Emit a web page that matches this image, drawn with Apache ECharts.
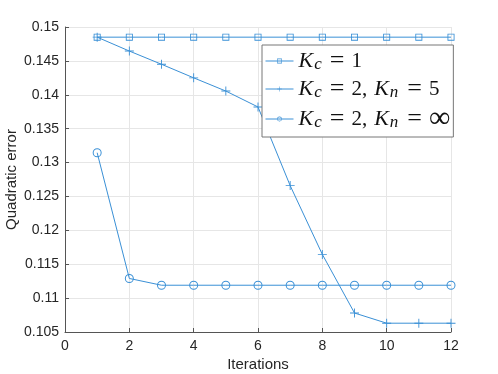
<!DOCTYPE html>
<html>
<head>
<meta charset="utf-8">
<script src="https://cdn.jsdelivr.net/npm/echarts@6/dist/echarts.min.js"></script>
<style>html,body{margin:0;padding:0;background:#fff}#c{width:498px;height:374px}</style>
</head>
<body>
<div id="c"></div>
<script>
var iterations = [1,2,3,4,5,6,7,8,9,10,11,12];
var kc1 = [0.1485,0.1485,0.1485,0.1485,0.1485,0.1485,0.1485,0.1485,0.1485,0.1485,0.1485,0.1485];
var kc2kn5 = [0.1485,0.14645,0.1445,0.1425,0.14055,0.1382,0.1266,0.11645,0.1078,0.1063,0.1063,0.1063];
var kc2knInf = [0.13145,0.1129,0.1119,0.1119,0.1119,0.1119,0.1119,0.1119,0.1119,0.1119,0.1119,0.1119];
var xTicks = [0,2,4,6,8,10,12];
var yTicks = [0.105,0.11,0.115,0.12,0.125,0.13,0.135,0.14,0.145,0.15];
var seriesNames = ['Kc1','Kc2Kn5','Kc2KnInf'];
var legendLabels = {
  'Kc1': '{k|K}{sc|c}{e|=}{n|1}',
  'Kc2Kn5': '{k|K}{sc|c}{e|=}{n|2,}{k2|K}{sn|n}{e|=}{n|5}',
  'Kc2KnInf': '{k|K}{sc|c}{e|=}{n|2,}{k2|K}{sn|n}{e|=}{inf|∞}'
};
function pairs(ys){ return iterations.map(function(x,i){ return [x, ys[i]]; }); }
var col = '#3a90d6';
var plusPath = 'path://M4.5,0h1v10h-1zM0,4.5h10v1h-10z';
var squarePath = 'path://M0,0L10,0L10,10L0,10ZM1.2,1.2L1.2,8.8L8.8,8.8L8.8,1.2Z';
var circlePath = 'path://M5,0A5,5 0 1,1 5,10A5,5 0 1,1 5,0ZM5,1.1A3.9,3.9 0 1,0 5,8.9A3.9,3.9 0 1,0 5,1.1Z';
var chart = echarts.init(document.getElementById('c'), null, {renderer:'canvas'});
var axisFont = {fontFamily:'Liberation Sans, Arial, sans-serif', fontSize:14, color:'#262626'};
var serif = 'Liberation Serif, DejaVu Serif, serif';
chart.setOption({
  animation:false,
  backgroundColor:'#fff',
  grid:{left:65,right:47,top:27,bottom:42,containLabel:false,outerBoundsMode:'none'},
  xAxis:{
    type:'value', min:0, max:12, interval:2,
    name:'Iterations', nameLocation:'middle', nameGap:25, nameMoveOverlap:false,
    nameTextStyle:{fontFamily:'Liberation Sans, Arial, sans-serif', fontSize:15, color:'#262626'},
    axisLine:{lineStyle:{color:'#555',width:1}},
    axisTick:{inside:true,length:4,lineStyle:{color:'#555'}},
    axisLabel:Object.assign({margin:7, formatter:function(v){return xTicks.indexOf(v)>=0? String(v):'';}}, axisFont),
    splitLine:{show:true,lineStyle:{color:'#e6e6e6',width:1}}
  },
  yAxis:{
    type:'value', min:0.105, max:0.15, interval:0.005,
    name:'Quadratic error', nameLocation:'middle', nameGap:46, nameMoveOverlap:false,
    nameTextStyle:{fontFamily:'Liberation Sans, Arial, sans-serif', fontSize:15, color:'#262626'},
    axisLine:{show:true,lineStyle:{color:'#555',width:1}},
    axisTick:{show:true,inside:true,length:4,lineStyle:{color:'#555'}},
    axisLabel:Object.assign({margin:6, formatter:function(v){
      var best=yTicks[0];yTicks.forEach(function(t){if(Math.abs(t-v)<Math.abs(best-v))best=t;});
      return String(best);}}, axisFont),
    splitLine:{show:true,lineStyle:{color:'#e6e6e6',width:1}}
  },
  legend:{
    orient:'vertical', left:262, top:45,
    backgroundColor:'#fff', borderColor:'#777', borderWidth:1,
    padding:[3,3,3,3], itemGap:2, itemWidth:28, itemHeight:6,
    lineStyle:{width:1},
    data:seriesNames,
    formatter:function(n){return legendLabels[n];},
    textStyle:{
      color:'#111',
      rich:{
        k:{fontFamily:serif, fontStyle:'italic', fontSize:22, lineHeight:24, verticalAlign:'middle', padding:[0,1,0,0]},
        k2:{fontFamily:serif, fontStyle:'italic', fontSize:22, lineHeight:24, verticalAlign:'middle', padding:[0,1,0,7]},
        sc:{fontFamily:serif, fontStyle:'italic', fontSize:17, lineHeight:14, verticalAlign:'bottom', padding:[0,8,0,0]},
        sn:{fontFamily:serif, fontStyle:'italic', fontSize:17, lineHeight:14, verticalAlign:'bottom', padding:[0,9,0,0]},
        e:{fontFamily:serif, fontSize:26, lineHeight:24, verticalAlign:'middle', padding:[0,7,0,0]},
        n:{fontFamily:serif, fontSize:21, lineHeight:24, verticalAlign:'middle'},
        inf:{fontFamily:serif, fontSize:30, lineHeight:24, verticalAlign:'middle'}
      }
    }
  },
  series:[
    {name:'Kc1', type:'line', data:pairs(kc1), symbol:squarePath, symbolSize:7,
     lineStyle:{color:col,width:1}, itemStyle:{color:col,borderWidth:0}},
    {name:'Kc2Kn5', type:'line', data:pairs(kc2kn5), symbol:plusPath, symbolSize:9,
     lineStyle:{color:col,width:1}, itemStyle:{color:col,borderWidth:0}},
    {name:'Kc2KnInf', type:'line', data:pairs(kc2knInf), symbol:circlePath, symbolSize:9,
     lineStyle:{color:col,width:1}, itemStyle:{color:col,borderWidth:0}}
  ]
});
</script>
</body>
</html>
